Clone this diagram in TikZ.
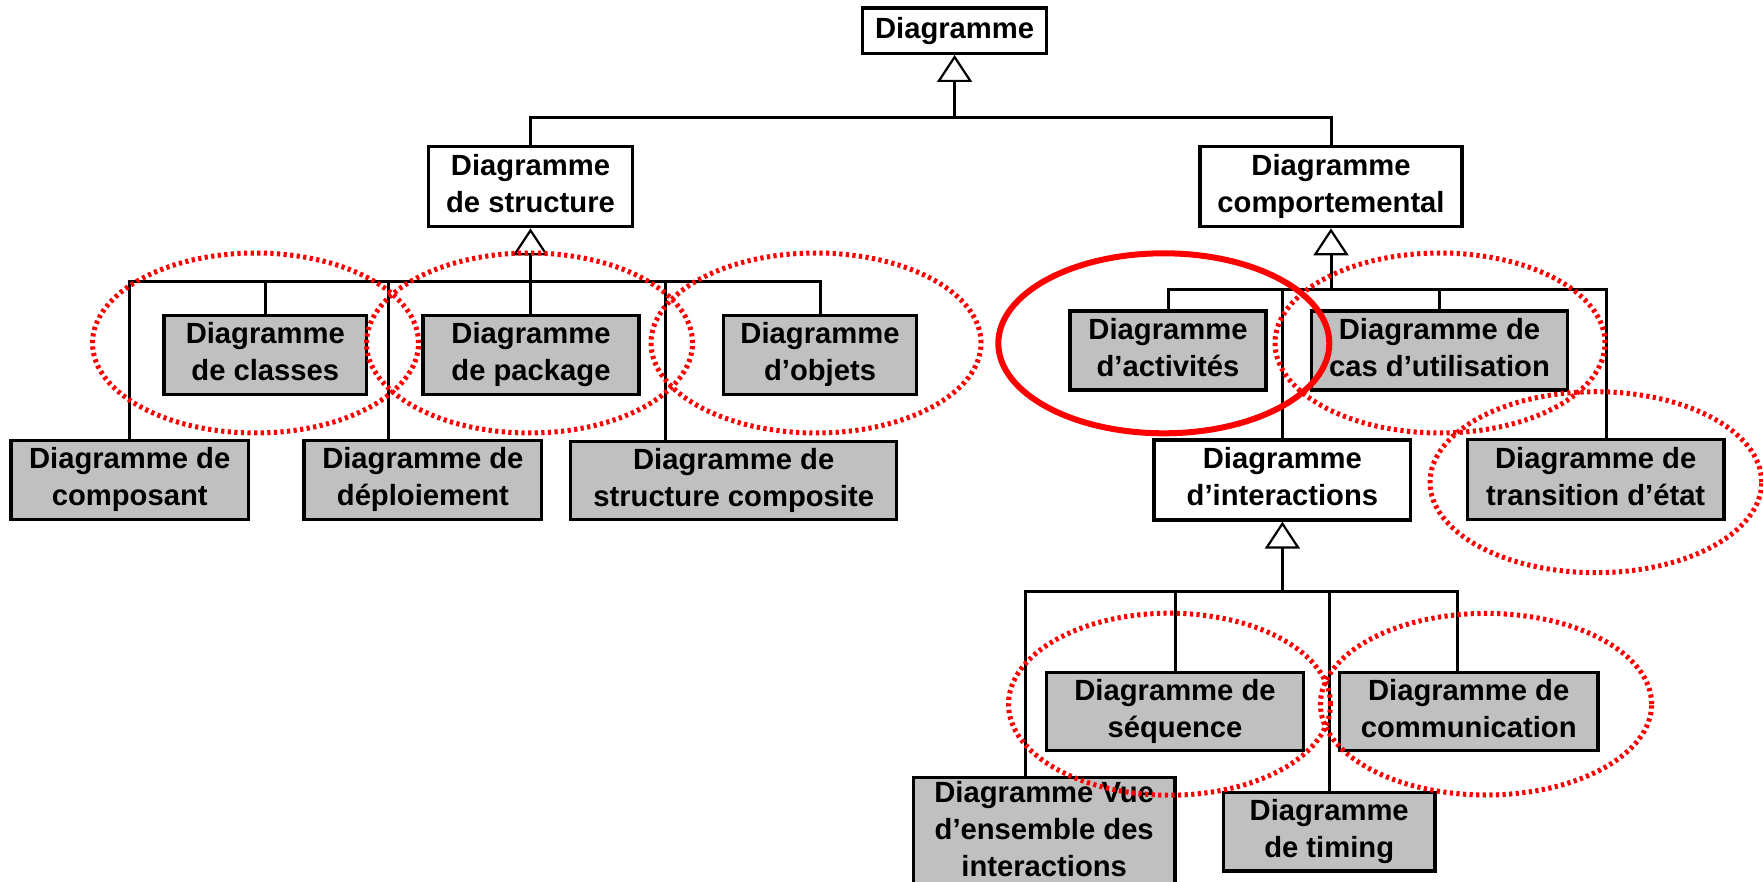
\documentclass[tikz,border=0pt]{standalone}
\usepackage{fontspec}
\setmainfont{Liberation Sans}
\usetikzlibrary{arrows.meta}
\definecolor{boxgray}{HTML}{C0C0C0}
\definecolor{hired}{HTML}{FF0000}
\newcommand{\mydepthfix}{\rule[-6.2pt]{0pt}{0pt}}
\tikzset{
  box/.style={draw=black, line width=3.3pt, align=center, inner sep=0pt, fill=white,
    font=\bfseries\fontsize{29.2}{37}\selectfont},
  gbox/.style={box, fill=boxgray},
  conn/.style={draw=black, line width=3pt},
  gen/.style={conn, -{Triangle[fill=white, length=27pt, width=35pt, line width=2.2pt]}},
  dotring/.style={draw=hired, line width=5pt, dash pattern=on 3.2pt off 3.4pt},
  solidring/.style={draw=hired, line width=6pt},
}
\begin{document}
\begin{tikzpicture}[x=1pt,y=-1pt]
\useasboundingbox (0,0) rectangle (1763,882);

% ---- boxes ----
\node[box, minimum width=184.4pt, minimum height=45.3pt] (top) at (954.6,30.7) {Diagramme\mydepthfix};
\node[box, minimum width=204.4pt, minimum height=80pt] (struct) at (530.5,186.7) {Diagramme\\de structure\mydepthfix};
\node[box, minimum width=262pt, minimum height=80pt] (behav) at (1331,186.7) {Diagramme\\comportemental\mydepthfix};

\node[gbox, minimum width=202.7pt, minimum height=78.6pt] (classes) at (265.3,355) {Diagramme\\de classes\mydepthfix};
\node[gbox, minimum width=216pt, minimum height=78.6pt] (package) at (531,355) {Diagramme\\de package\mydepthfix};
\node[gbox, minimum width=193.4pt, minimum height=78.6pt] (objets) at (820,355) {Diagramme\\d’objets\mydepthfix};

\node[gbox, minimum width=237.3pt, minimum height=78.6pt] (composant) at (129.7,480) {Diagramme de\\composant\mydepthfix};
\node[gbox, minimum width=237.7pt, minimum height=78.6pt] (deploiement) at (422.9,480) {Diagramme de\\déploiement\mydepthfix};
\node[gbox, minimum width=326pt, minimum height=78pt] (structcomp) at (733.7,480.5) {Diagramme de\\structure composite\mydepthfix};

\node[gbox, minimum width=196pt, minimum height=79pt] (activites) at (1168,350.5) {Diagramme\\d’activités\mydepthfix};
\node[gbox, minimum width=255.6pt, minimum height=79pt] (cas) at (1439.5,350.5) {Diagramme de\\cas d’utilisation\mydepthfix};
\node[box, minimum width=256.7pt, minimum height=80pt] (interactions) at (1282.4,480) {Diagramme\\d’interactions\mydepthfix};
\node[gbox, minimum width=256.7pt, minimum height=80pt] (transition) at (1595.7,479.3) {Diagramme de\\transition d’état\mydepthfix};

\node[gbox, minimum width=256.6pt, minimum height=78pt] (sequence) at (1175,711.7) {Diagramme de\\séquence\mydepthfix};
\node[gbox, minimum width=258.7pt, minimum height=78pt] (communication) at (1468.7,711.7) {Diagramme de\\communication\mydepthfix};
\node[gbox, anchor=north, minimum width=261.7pt, inner ysep=4pt] (vue) at (1044.2,776) {Diagramme Vue\\d’ensemble des\\interactions\rule[-16pt]{0pt}{0pt}};
\node[gbox, minimum width=211.7pt, minimum height=78.3pt] (timing) at (1329.2,831.9) {Diagramme\\de timing\mydepthfix};

% ---- connectors: root ----
\coordinate (t0) at (954.6,117.3);
\draw[gen] (t0) -- (top.south);
\draw[conn] (struct.north) |- (t0) -| (behav.north);

% ---- structure ----
\coordinate (s0) at (530.5,281.7);
\draw[gen] (s0) -- (struct.south);
\draw[conn] (s0) -| (composant.north);
\draw[conn] (s0) -| (classes.north);
\draw[conn] (s0) -| ([xshift=-34.6pt]deploiement.north);
\draw[conn] (s0) -- (s0 |- package.north);
\draw[conn] (s0) -| ([xshift=-68.7pt]structcomp.north);
\draw[conn] (s0) -| (objets.north);

% ---- behaviour ----
\coordinate (b0) at (1331,290);
\draw[gen] (b0) -- (behav.south);
\draw[conn] (b0) -| (activites.north);
\draw[conn] (b0) -| (interactions.north);
\draw[conn] (b0) -| (cas.north);
\draw[conn] (b0) -| ([xshift=11pt]transition.north);

% ---- interactions ----
\coordinate (i0) at (1282.4,591.7);
\draw[gen] (i0) -- (interactions.south);
\draw[conn] (i0) -| ([xshift=-19.2pt]vue.north);
\draw[conn] (i0) -| (sequence.north);
\draw[conn] (i0) -| (timing.north);
\draw[conn] (i0) -| ([xshift=-11.7pt]communication.north);

% ---- highlight rings ----
\draw[dotring] (255.5,343) ellipse [x radius=163pt, y radius=90pt];
\draw[dotring] (529.5,343) ellipse [x radius=163pt, y radius=90pt];
\draw[dotring] (816,343) ellipse [x radius=165pt, y radius=90pt];
\draw[solidring] (1163.8,343.3) ellipse [x radius=165.5pt, y radius=90pt];
\draw[dotring] (1440,343) ellipse [x radius=165pt, y radius=90pt];
\draw[dotring] (1595.8,482.2) ellipse [x radius=165.8pt, y radius=90.5pt];
\draw[dotring] (1169.5,704.2) ellipse [x radius=161pt, y radius=91pt];
\draw[dotring] (1486,704.2) ellipse [x radius=165.6pt, y radius=90.8pt];
\end{tikzpicture}
\end{document}
